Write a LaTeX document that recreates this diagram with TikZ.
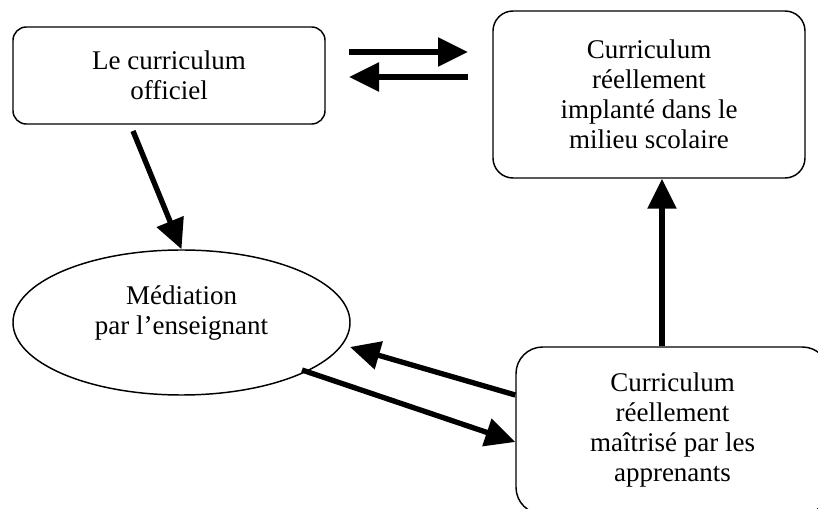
\documentclass[tikz,border=0pt]{standalone}
\usepackage{fontspec}
\setmainfont{Liberation Serif}
\usetikzlibrary{arrows.meta,shapes.geometric,calc}
\begin{document}
\begin{tikzpicture}[x=0.75pt,y=-0.75pt,
  txt/.style={align=center, font=\fontsize{20.25}{22.5}\selectfont},
  box/.style={txt, draw, line width=1.1pt, inner sep=0pt},
  flow/.style={line width=4pt, -{Triangle[length=22.5pt,width=21pt]}}]
\useasboundingbox (0,0) rectangle (818,509);
\clip (0,0) rectangle (818,509);
\node[box, rounded corners=10pt, minimum width=234pt, minimum height=72.75pt] (off) at (169,75.5) {Le curriculum\\officiel};
\node[box, rounded corners=15pt, minimum width=234pt, minimum height=125.25pt] (impl) at (649,94.5) {Curriculum\\réellement\\implanté dans le\\milieu scolaire};
\node[box, rounded corners=20pt, minimum width=234.75pt, minimum height=125.25pt] (maitr) at (672.5,430.5) {Curriculum\\réellement\\maîtrisé par les\\apprenants};
\node[draw, ellipse, line width=1.1pt, inner sep=0pt, minimum width=252.75pt, minimum height=108.75pt] (ell) at (181.5,322.5) {};
\node[txt] (elltxt) at (181.5,313) {Médiation\\par l’enseignant};
\coordinate (a1s) at (349,52);
\coordinate (a1e) at (468,52);
\coordinate (a2s) at (468,77);
\coordinate (a2e) at (349,77);
\draw[flow] (a1s) -- (a1e);
\draw[flow] (a2s) -- (a2e);
\coordinate (d1) at (133,131);
\draw[flow] (d1) -- (ell.north);
\coordinate (vx) at (662,0);
\draw[flow] (maitr.north -| vx) -- (impl.south -| vx);
\coordinate (u1) at (516,395);
\coordinate (u2) at (350,347);
\draw[flow] (maitr.west |- u1) -- (u2);
\coordinate (l1) at (302,370);
\coordinate (l2) at (516,442);
\draw[flow] (l1) -- (maitr.west |- l2);
\end{tikzpicture}
\end{document}
